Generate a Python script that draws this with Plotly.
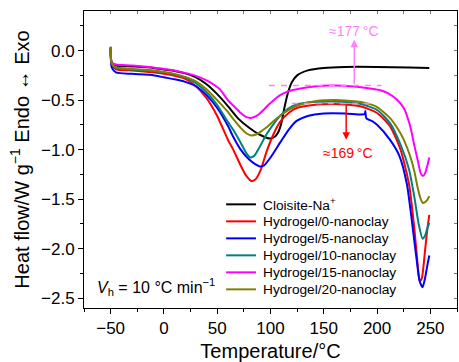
import plotly.graph_objects as go

# ---------------- data ----------------
names = ["Cloisite-Na<sup>+</sup>", "Hydrogel/0-nanoclay", "Hydrogel/5-nanoclay",
         "Hydrogel/10-nanoclay", "Hydrogel/15-nanoclay", "Hydrogel/20-nanoclay"]
colors = ["#000000", "#FF0000", "#0000FF", "#008080", "#FF00FF", "#808000"]

x_black = [-50, -49, -45, -30, -10, 0, 10, 20, 30, 40, 50, 60, 70, 80, 90, 99, 104, 107, 110, 113, 116, 120, 125, 135, 150, 170, 200, 230, 249]
y_black = [0.03, -0.12, -0.15, -0.16, -0.175, -0.19, -0.205, -0.23, -0.27, -0.34, -0.44, -0.56, -0.69, -0.78, -0.85, -0.887, -0.87, -0.83, -0.74, -0.58, -0.44, -0.32, -0.25, -0.20, -0.175, -0.165, -0.165, -0.17, -0.175]

x_red = [-50, -49, -45, -30, -10, 0, 10, 20, 30, 40, 50, 60, 65, 72, 77, 82, 86, 91, 96, 103, 109, 117, 124.5, 140, 160, 170, 185, 200, 212, 222, 230, 235, 238, 240, 242, 245, 247, 249]
y_red = [0.03, -0.14, -0.19, -0.20, -0.22, -0.235, -0.255, -0.285, -0.36, -0.48, -0.66, -0.90, -1.0, -1.16, -1.26, -1.317, -1.30, -1.20, -1.03, -0.84, -0.72, -0.63, -0.58, -0.55, -0.54, -0.545, -0.565, -0.63, -0.76, -1.0, -1.35, -1.80, -2.15, -2.33, -2.30, -2.02, -1.82, -1.66]

x_blue = [-50, -49, -45, -30, -10, 0, 10, 20, 30, 40, 50, 60, 65, 72, 80, 86, 90, 94, 100, 109, 117, 124.5, 135, 150, 170, 185, 188.5, 189, 190, 195, 200, 212, 221, 228, 233, 237, 240, 242.7, 245, 247, 249]
y_blue = [0.02, -0.17, -0.22, -0.235, -0.25, -0.27, -0.29, -0.316, -0.36, -0.45, -0.58, -0.76, -0.87, -1.0, -1.10, -1.15, -1.17, -1.16, -1.08, -0.93, -0.80, -0.71, -0.66, -0.635, -0.635, -0.645, -0.64, -0.61, -0.685, -0.71, -0.75, -0.90, -1.065, -1.35, -1.75, -2.10, -2.33, -2.39, -2.30, -2.18, -2.07]

x_teal = [-50, -49, -45, -30, -10, 0, 10, 20, 30, 40, 50, 60, 65, 72, 77, 81, 85, 90, 96, 103, 109, 116, 124.5, 140, 160, 170, 185, 200, 212, 222, 230, 235, 239, 242.7, 245, 247, 249]
y_teal = [0.04, -0.13, -0.175, -0.19, -0.205, -0.22, -0.24, -0.27, -0.33, -0.42, -0.55, -0.72, -0.80, -0.93, -1.03, -1.08, -1.06, -0.97, -0.85, -0.74, -0.66, -0.59, -0.545, -0.52, -0.515, -0.52, -0.54, -0.60, -0.73, -0.95, -1.20, -1.48, -1.75, -1.90, -1.87, -1.80, -1.74]

x_mag = [-50, -49, -45, -30, -10, 0, 10, 20, 30, 40, 52.5, 60, 65, 72, 77, 81, 86, 90, 99, 109, 117, 127, 143, 156, 170, 181, 195, 203, 210, 218, 225, 231, 235, 238.6, 241, 243, 245, 247, 249]
y_mag = [0.03, -0.12, -0.14, -0.15, -0.17, -0.185, -0.20, -0.225, -0.255, -0.30, -0.39, -0.50, -0.555, -0.63, -0.67, -0.68, -0.665, -0.635, -0.54, -0.45, -0.41, -0.385, -0.36, -0.353, -0.355, -0.366, -0.385, -0.40, -0.43, -0.49, -0.58, -0.76, -0.96, -1.13, -1.24, -1.267, -1.24, -1.17, -1.08]

x_olive = [-50, -49, -45, -30, -10, 0, 10, 20, 30, 40, 50, 60, 65, 72, 78, 82, 87, 92, 97, 104, 112, 120, 128, 143, 160, 170, 185, 200, 212, 220, 225, 231, 235, 238, 241, 243, 245, 247, 249]
y_olive = [0.04, -0.13, -0.17, -0.185, -0.20, -0.215, -0.235, -0.265, -0.31, -0.39, -0.50, -0.62, -0.69, -0.78, -0.84, -0.857, -0.845, -0.81, -0.77, -0.70, -0.635, -0.58, -0.545, -0.51, -0.50, -0.503, -0.52, -0.57, -0.68, -0.80, -0.90, -1.065, -1.22, -1.38, -1.50, -1.54, -1.53, -1.51, -1.47]

series_x = [x_black, x_red, x_blue, x_teal, x_mag, x_olive]
series_y = [y_black, y_red, y_blue, y_teal, y_mag, y_olive]

x_range = [-75, 275]
y_range = [-2.6, 0.4]
x_ticks = [-50, 0, 50, 100, 150, 200, 250]
x_ticklabels = ["\u221250", "0", "50", "100", "150", "200", "250"]
y_ticks = [0.0, -0.5, -1.0, -1.5, -2.0, -2.5]
y_ticklabels = ["0.0", "\u22120.5", "\u22121.0", "\u22121.5", "\u22122.0", "\u22122.5"]

# annotation data
t_up, t_up_label = 178.6, "\u2248177\u2009\u00b0C"
t_down, t_down_label = 171.0, "\u2248169\u2009\u00b0C"
dash_upper = ([98.5, 204.0], -0.352)
dash_lower = ([120.0, 198.0], -0.535)

FONT = "Liberation Sans, Arial, sans-serif"
PINK = "#FF80FF"

fig = go.Figure()
for name, c, xs, ys in zip(names, colors, series_x, series_y):
    fig.add_trace(go.Scatter(x=xs, y=ys, mode="lines", name=name, showlegend=False,
                             line=dict(color=c, width=2, shape="spline", smoothing=0.6)))

# legend (compact, drawn in paper coordinates to match the reference row spacing)
leg_x0, leg_x1, leg_tx = 0.381, 0.461, 0.4745
leg_y0, leg_dy = 0.349, 17 / 297
for i, (name, c) in enumerate(zip(names, colors)):
    yy = leg_y0 - i * leg_dy
    fig.add_shape(type="line", xref="paper", yref="paper", x0=leg_x0, x1=leg_x1,
                  y0=yy, y1=yy, line=dict(color=c, width=2))
    fig.add_annotation(xref="paper", yref="paper", x=leg_tx, y=yy, xanchor="left",
                       yanchor="middle", text=name, showarrow=False,
                       font=dict(family=FONT, size=13.7, color="black"))

# dashed reference lines
for xs, yv in (dash_upper, dash_lower):
    fig.add_shape(type="line", x0=xs[0], x1=xs[1], y0=yv, y1=yv, xref="x", yref="y",
                  line=dict(color=PINK, width=1.5, dash="6px,6px"))

# arrows
fig.add_annotation(x=t_up, y=0.11, ax=t_up, ay=dash_upper[1], axref="x", ayref="y",
                   xref="x", yref="y", showarrow=True, arrowhead=2, arrowsize=1,
                   arrowwidth=1.5, arrowcolor=PINK, text="")
fig.add_annotation(x=t_down, y=-0.90, ax=t_down, ay=dash_lower[1], axref="x", ayref="y",
                   xref="x", yref="y", showarrow=True, arrowhead=2, arrowsize=1,
                   arrowwidth=1.5, arrowcolor="#FF0000", text="")
fig.add_annotation(x=178, y=0.195, text=t_up_label, showarrow=False,
                   font=dict(family=FONT, size=14, color=PINK))
fig.add_annotation(x=172.5, y=-1.03, text=t_down_label, showarrow=False,
                   font=dict(family=FONT, size=14, color="#FF0000"))
fig.add_annotation(x=-64.7, y=-2.39, xanchor="left", showarrow=False,
                   text="<i>V</i><sub>h</sub> = 10 \u00b0C min<sup>\u22121</sup>",
                   font=dict(family=FONT, size=16, color="#000000"))

axis_common = dict(showline=True, linecolor="black", linewidth=1, mirror=True,
                   showgrid=False, zeroline=False, ticks="outside", ticklen=5,
                   tickcolor="black", tickfont=dict(family=FONT, size=17, color="black"))

fig.update_layout(
    width=459, height=362,
    margin=dict(l=84, r=2, t=11, b=54),
    paper_bgcolor="white", plot_bgcolor="white",
    font=dict(family=FONT, color="black"),
    xaxis=dict(range=x_range, tickvals=x_ticks, ticktext=x_ticklabels,
               minor=dict(ticks="outside", ticklen=3, dtick=25, tick0=0, tickcolor="black"),
               title=dict(text="Temperature/\u00b0C", font=dict(family=FONT, size=20), standoff=6),
               **axis_common),
    yaxis=dict(range=y_range, tickvals=y_ticks, ticktext=y_ticklabels,
               minor=dict(ticks="outside", ticklen=3, dtick=0.25, tick0=0, tickcolor="black"),
               title=dict(text="Heat flow/W g<sup>\u22121</sup> Endo \u2194 Exo",
                          font=dict(family=FONT, size=20), standoff=6),
               **axis_common),
    xaxis2=dict(range=x_range, overlaying="x", side="top", showline=False, showgrid=False,
                zeroline=False, ticks="inside", ticklen=3, tickcolor="#777", dtick=25, tick0=0,
                showticklabels=False),
    yaxis2=dict(range=y_range, overlaying="y", side="right", showline=False, showgrid=False,
                zeroline=False, ticks="inside", ticklen=3, tickcolor="#777", dtick=0.25, tick0=0,
                showticklabels=False),
    showlegend=False,
)
# invisible trace to activate the mirrored tick axes
fig.add_trace(go.Scatter(x=[None], y=[None], xaxis="x2", yaxis="y2", showlegend=False,
                         hoverinfo="skip"))

fig.write_html("out.html")
